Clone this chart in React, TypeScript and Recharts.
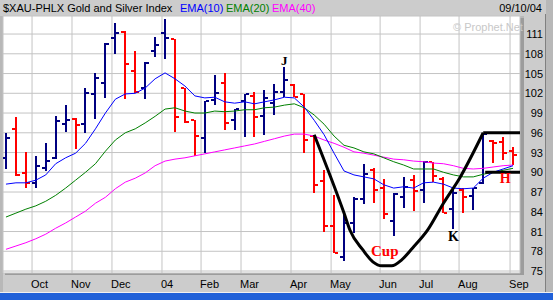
import React from "react";
import {
  ComposedChart,
  Bar,
  Line,
  XAxis,
  YAxis,
  CartesianGrid,
  ReferenceDot,
} from "recharts";

// weekly OHLC, Sep 2003 .. 09/10/04
const opens = [
  92.2, 96.6, 89.9, 88.4, 90.6, 92.2, 97.3, 98.1, 97.3, 101.9,
  103.6, 110.4, 111.3, 105.4, 102.8, 108.4, 111.2, 110.2, 102.8, 97.9,
  95.2, 101.0, 103.6, 97.9, 100.8, 101.6, 98.5, 100.5, 102.2, 103.3,
  101.9, 95.5, 88.7, 81.8, 77.1, 82.3, 85.9, 90.3, 87.6, 82.6,
  86.2, 88.8, 87.3, 91.6, 89.0, 84.4, 87.3, 86.4, 88.4, 94.7,
  94.6, 93.3,
];
const highs = [
  96.0, 98.4, 93.1, 92.5, 94.4, 98.5, 100.2, 98.2, 102.8, 105.1,
  109.6, 112.7, 111.5, 108.4, 106.7, 110.5, 113.3, 110.2, 102.8, 97.9,
  100.8, 104.8, 105.1, 99.6, 101.9, 102.2, 102.5, 103.4, 106.0, 103.4,
  101.9, 95.5, 90.3, 86.5, 84.0, 86.2, 91.3, 90.6, 89.0, 86.8,
  89.3, 89.6, 91.7, 91.6, 89.3, 87.6, 87.6, 87.6, 96.0, 94.9,
  95.4, 93.8,
];
const lows = [
  90.6, 89.4, 87.6, 87.6, 90.2, 92.0, 96.1, 93.5, 96.0, 98.1,
  101.3, 108.0, 101.1, 102.0, 101.1, 107.4, 107.2, 96.0, 97.5, 92.5,
  92.9, 100.2, 96.4, 96.4, 95.4, 95.4, 95.7, 98.7, 101.4, 101.4,
  92.9, 86.8, 80.9, 77.7, 76.5, 80.8, 85.2, 85.3, 82.9, 80.2,
  84.6, 84.1, 85.3, 88.5, 83.8, 81.4, 83.8, 84.2, 88.2, 91.4,
  91.9, 91.0,
];
const closes = [
  95.2, 89.6, 88.4, 91.0, 91.7, 97.8, 97.9, 97.2, 102.0, 104.3,
  109.5, 111.2, 106.4, 102.2, 106.6, 109.3, 110.4, 98.4, 97.6, 95.5,
  100.8, 102.0, 97.5, 99.6, 101.9, 98.4, 101.3, 102.2, 104.0, 101.4,
  94.9, 88.1, 81.8, 77.7, 82.3, 85.9, 89.7, 87.3, 83.7, 86.7,
  87.8, 87.2, 91.6, 89.4, 83.8, 86.8, 86.2, 87.6, 95.8, 94.4,
  92.9, 92.6,
];

const ema10 = [
  88.2, 88.4, 88.4, 88.8, 89.6, 91.3, 92.2, 92.9, 94.4, 96.6,
  99.0, 101.1, 101.9, 102.0, 102.8, 104.2, 105.1, 104.2, 103.1, 101.6,
  101.3, 101.4, 100.7, 100.5, 100.7, 100.4, 100.7, 101.0, 101.4, 101.3,
  99.9, 97.9, 95.7, 92.9, 90.2, 89.6, 89.3, 89.0, 88.1, 87.6,
  87.8, 87.6, 88.4, 88.5, 88.2, 87.6, 87.5, 87.6, 89.1, 90.0,
  90.5, 91.0,
];
const ema20 = [
  83.2, 83.8, 84.4, 84.9, 85.6, 86.5, 87.6, 88.8, 90.0, 91.3,
  93.2, 94.9, 96.0, 96.6, 97.5, 98.5, 99.6, 99.8, 99.3, 99.0,
  99.0, 99.3, 99.2, 99.3, 99.5, 99.5, 99.8, 99.9, 100.2, 100.4,
  99.8, 98.7, 97.3, 95.5, 94.1, 93.7, 93.1, 92.8, 92.2, 91.6,
  91.1, 90.5, 90.5, 90.5, 90.0, 89.6, 89.3, 89.3, 89.7, 90.0,
  90.3, 90.6,
];
const ema40 = [
  78.3, 78.8, 79.3, 79.9, 80.6, 81.5, 82.3, 83.2, 84.1, 85.3,
  86.2, 87.5, 88.5, 89.1, 89.9, 91.0, 91.7, 92.0, 92.2, 92.5,
  92.8, 93.1, 93.4, 93.7, 94.0, 94.3, 94.7, 95.1, 95.5, 95.8,
  95.8, 95.5, 94.9, 94.4, 93.8, 93.1, 92.9, 92.6, 92.3, 92.0,
  91.9, 91.7, 91.6, 91.4, 91.3, 91.0, 90.6, 90.5, 90.6, 90.8,
  91.0, 91.1,
];

// month boundaries, in week index
const monthTicks = [2.62, 6.64, 10.66, 15.69, 19.62, 23.64, 28.67, 32.7, 37.63, 41.65, 45.57, 50.7];
const monthLabels = ["Oct", "Nov", "Dec", "04", "Feb", "Mar", "Apr", "May", "Jun", "Jul", "Aug", "Sep"];
const priceTicks = [75, 78, 81, 84, 87, 90, 93, 96, 99, 102, 105, 108, 111];

// hand-drawn cup and handle
const cupX = [31.0, 34.0, 34.6, 35.9, 36.9, 37.8, 38.8, 39.8, 40.9, 42.4, 44.0, 45.7, 48.0];
const cupY = [95.7, 83.8, 81.2, 78.2, 76.4, 75.8, 75.8, 76.7, 78.5, 81.2, 85.3, 89.3, 96.0];
const handleTopX = [48.0, 51.7];
const handleTopY = [96.0, 96.0];
const handleLowX = [48.2, 51.7];
const handleLowY = [90.0, 90.0];

const FONT = '"Liberation Sans", Arial, sans-serif';
const SERIF = '"Liberation Serif", "Times New Roman", serif';

const data = opens.map((o, i) => ({
  x: i,
  open: o,
  high: highs[i],
  low: lows[i],
  close: closes[i],
  range: [lows[i], highs[i]],
  up: i === 0 || closes[i] >= closes[i - 1],
  ema10: ema10[i],
  ema20: ema20[i],
  ema40: ema40[i],
}));

const cupData = cupX.map((x, i) => ({ x, y: cupY[i] }));
const handleTop = handleTopX.map((x, i) => ({ x, y: handleTopY[i] }));
const handleLow = handleLowX.map((x, i) => ({ x, y: handleLowY[i] }));

function OhlcShape(props: any) {
  const { x, y, width, height, payload } = props;
  if (payload == null || x == null) return null;
  const top = Math.min(y, y + height);
  const h = Math.abs(height);
  const cx = Math.round(x + width / 2);
  const span = payload.high - payload.low || 1;
  const yOf = (v: number) => Math.round(top + ((payload.high - v) / span) * h);
  const color = payload.up ? "#000080" : "#ff0000";
  return (
    <g>
      <rect x={cx - 1} y={Math.round(top)} width={2} height={Math.max(2, Math.round(h))} fill={color} />
      <rect x={cx - 4} y={yOf(payload.open) - 1} width={3} height={2} fill={color} />
      <rect x={cx + 1} y={yOf(payload.close) - 1} width={3} height={2} fill={color} />
    </g>
  );
}

function MonthTick(props: any) {
  const { x, index } = props;
  return (
    <text x={x - 1} y={288} fontSize={11} fontFamily={FONT} fill="#000" textAnchor="start">
      {monthLabels[index]}
    </text>
  );
}

function PriceTick(props: any) {
  const { y, payload } = props;
  return (
    <text x={543} y={y} dy={4} fontSize={11} fontFamily={FONT} fill="#000" textAnchor="end">
      {payload.value}
    </text>
  );
}

function Tag(props: any) {
  const { viewBox, text, color, size } = props;
  const cx = viewBox.x + (viewBox.width || 0) / 2;
  const cy = viewBox.y + (viewBox.height || 0) / 2;
  return (
    <text
      x={cx}
      y={cy}
      dy={size * 0.33}
      textAnchor="middle"
      fontSize={size}
      fontFamily={SERIF}
      fontWeight="bold"
      fill={color}
    >
      {text}
    </text>
  );
}

const abs = (s: React.CSSProperties): React.CSSProperties => ({ position: "absolute", ...s });

export default function App() {
  return (
    <div style={{ position: "relative", width: 553, height: 300, background: "#b8b8b8", overflow: "hidden", fontFamily: FONT }}>
      <style>{`body{margin:0}`}</style>
      {/* frame */}
      <div style={abs({ left: 0, top: 0, width: 546, height: 16, background: "#cccccc" })} />
      <div style={abs({ left: 524, top: 16, width: 21, height: 276, background: "#cccccc" })} />
      <div style={abs({ left: 520, top: 18, width: 4, height: 257, background: "#9c9c9c" })} />
      <div style={abs({ left: 545, top: 14, width: 1, height: 278, background: "#808080" })} />
      <div style={abs({ left: 3, top: 273, width: 542, height: 19, background: "#cccccc" })} />
      <div style={abs({ left: 5, top: 273, width: 519, height: 2, background: "#9c9c9c" })} />
      <div style={abs({ left: 0, top: 292, width: 553, height: 1, background: "#f0f0f0" })} />
      <div style={abs({ left: 0, top: 293, width: 553, height: 7, background: "#2060d8" })} />

      {/* header */}
      <div style={abs({ left: 3, top: 1, fontSize: 11, lineHeight: "14px", color: "#000", whiteSpace: "nowrap" })}>
        $XAU-PHLX Gold and Silver Index
      </div>
      <div style={abs({ left: 180, top: 1, fontSize: 11, lineHeight: "14px", color: "#0000ff" })}>EMA(10)</div>
      <div style={abs({ left: 226, top: 1, fontSize: 11, lineHeight: "14px", color: "#008000" })}>EMA(20)</div>
      <div style={abs({ left: 272, top: 1, fontSize: 11, lineHeight: "14px", color: "#ff00ff" })}>EMA(40)</div>
      <div style={abs({ right: 11, top: 1, fontSize: 11, lineHeight: "14px", color: "#000" })}>09/10/04</div>

      <div style={abs({ left: 0, top: 0 })}>
        <ComposedChart width={553} height={300} data={data} margin={{ top: 16, right: 0, left: 3, bottom: 0 }}>
          <CartesianGrid stroke="#c4c4c4" fill="#ffffff" fillOpacity={1} />
          <XAxis
            type="number"
            dataKey="x"
            domain={[-0.3, 51.7]}
            allowDataOverflow
            ticks={monthTicks}
            interval={0}
            tick={<MonthTick />}
            axisLine={false}
            tickLine={false}
            height={27}
          />
          <YAxis
            orientation="right"
            type="number"
            domain={[74.7, 113.74]}
            allowDataOverflow
            ticks={priceTicks}
            interval={0}
            tick={<PriceTick />}
            axisLine={false}
            tickLine={false}
            width={33}
          />
          <Line dataKey="ema40" type="linear" stroke="#ff00ff" strokeWidth={1} dot={false} isAnimationActive={false} />
          <Line dataKey="ema20" type="linear" stroke="#008000" strokeWidth={1} dot={false} isAnimationActive={false} />
          <Line dataKey="ema10" type="linear" stroke="#0000ff" strokeWidth={1} dot={false} isAnimationActive={false} />
          <Bar dataKey="range" barSize={6} shape={<OhlcShape />} isAnimationActive={false} />
          <Line data={cupData} dataKey="y" type="monotone" stroke="#000" strokeWidth={3} dot={false} isAnimationActive={false} />
          <Line data={handleTop} dataKey="y" type="linear" stroke="#000" strokeWidth={3} dot={false} isAnimationActive={false} />
          <Line data={handleLow} dataKey="y" type="linear" stroke="#000" strokeWidth={3} dot={false} isAnimationActive={false} />
          <ReferenceDot x={28} y={106.9} r={1} fill="none" stroke="none" ifOverflow="visible" label={<Tag text="J" color="#000" size={13} />} />
          <ReferenceDot x={38.1} y={78.0} r={1} fill="none" stroke="none" ifOverflow="visible" label={<Tag text="Cup" color="#ff0000" size={15} />} />
          <ReferenceDot x={45.0} y={80.2} r={1} fill="none" stroke="none" ifOverflow="visible" label={<Tag text="K" color="#000" size={14} />} />
          <ReferenceDot x={50.2} y={89.1} r={1} fill="none" stroke="none" ifOverflow="visible" label={<Tag text="H" color="#ff0000" size={14} />} />
        </ComposedChart>
      </div>

      <div style={abs({ left: 453, top: 20, fontSize: 11, lineHeight: "14px", color: "#c8c8c8", whiteSpace: "nowrap" })}>
        © Prophet.Net
      </div>
    </div>
  );
}
